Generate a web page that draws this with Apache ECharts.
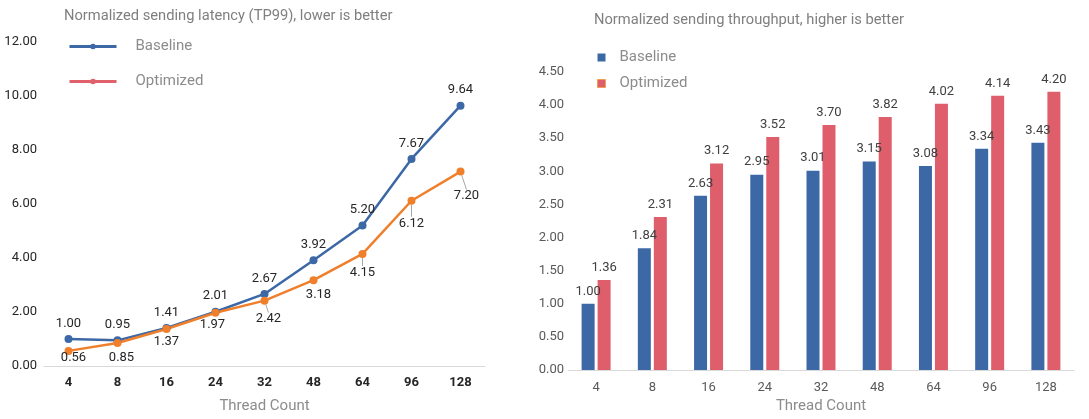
<!DOCTYPE html>
<html><head><meta charset="utf-8">
<script src="https://cdn.jsdelivr.net/npm/echarts@6/dist/echarts.min.js"></script>
<style>html,body{margin:0;padding:0;background:#fff}#c{width:1089px;height:419px}</style>
</head><body><div id="c"></div>
<script>
const categories = ['4','8','16','24','32','48','64','96','128'];
const latencyBaseline = [1.00,0.95,1.41,2.01,2.67,3.92,5.20,7.67,9.64];
const latencyOptimized = [0.56,0.85,1.37,1.97,2.42,3.18,4.15,6.12,7.20];
const throughputBaseline = [1.00,1.84,2.63,2.95,3.01,3.15,3.08,3.34,3.43];
const throughputOptimized = [1.36,2.31,3.12,3.52,3.70,3.82,4.02,4.14,4.20];
const latencyTicks = {min:0,max:12,interval:2};
const throughputTicks = {min:0,max:4.5,interval:0.5};

const FONT = 'Roboto';
const BLUE = '#3D68A6', ORANGE = '#F07F2C', RED = '#DE5F6B', LEG_RED = '#E0606C';
// label shifts for the optimized latency labels (dx, dy) and which get a leader line
const optShift = [[5,-9],[4,-1],[0,-3],[-3,-4],[4,3],[5,-1],[0,3],[0,7],[6,9]];
const optLeader = [false,false,false,false,true,false,true,true,true];

const chart = echarts.init(document.getElementById('c'), null, {renderer:'canvas'});
chart.setOption({
  animation:false,
  textStyle:{fontFamily:FONT},
  title:[
    {text:'Normalized sending latency (TP99), lower is better', left:59, top:4,
     textStyle:{fontFamily:FONT,fontSize:14.7,fontWeight:'normal',color:'#7f7f7f'}},
    {text:'Normalized sending throughput, higher is better', left:589, top:8,
     textStyle:{fontFamily:FONT,fontSize:14.7,fontWeight:'normal',color:'#7f7f7f'}}
  ],
  legend:[
    {orient:'vertical', left:63, top:34, itemWidth:47, itemHeight:7, itemGap:20,
     data:[{name:'Baseline', lineStyle:{width:3}},
           {name:'Optimized', itemStyle:{color:LEG_RED}, lineStyle:{color:LEG_RED, width:3}}],
     textStyle:{fontFamily:FONT,fontSize:15,color:'#8c8c8c',padding:[0,0,0,14]},
     seriesIndex:[0,1]},
    {orient:'vertical', left:592, top:45, itemWidth:8, itemHeight:8, itemGap:11, icon:'rect',
     data:[{name:'Baseline '},{name:'Optimized ', itemStyle:{color:RED, borderColor:'#F0A050', borderWidth:1}}],
     formatter: n => n.trim(),
     textStyle:{fontFamily:FONT,fontSize:15,color:'#8c8c8c',padding:[0,0,0,9]}}
  ],
  grid:[
    {left:44, right:604, top:42, bottom:49},
    {left:568, right:15, top:72, bottom:44}
  ],
  xAxis:[
    {type:'category', gridIndex:0, data:categories, boundaryGap:true,
     axisLine:{lineStyle:{color:'#d9d9d9',width:1}}, axisTick:{show:false},
     axisLabel:{color:'#262626',fontWeight:'bold',fontSize:13,margin:10,fontFamily:FONT},
     name:'Thread Count', nameLocation:'middle', nameGap:33,
     nameTextStyle:{color:'#8c8c8c',fontSize:15,fontFamily:FONT}},
    {type:'category', gridIndex:1, data:categories, boundaryGap:true,
     axisLine:{lineStyle:{color:'#d9d9d9',width:1}}, axisTick:{show:false},
     axisLabel:{color:'#595959',fontSize:13,margin:11,fontFamily:FONT},
     name:'Thread Count', nameLocation:'middle', nameGap:29,
     nameTextStyle:{color:'#8c8c8c',fontSize:15,fontFamily:FONT}}
  ],
  yAxis:[
    {type:'value', gridIndex:0, min:latencyTicks.min, max:latencyTicks.max, interval:latencyTicks.interval,
     splitLine:{show:false}, axisLine:{show:false}, axisTick:{show:false},
     axisLabel:{color:'#262626',fontSize:13,margin:7,formatter:v=>v.toFixed(2),fontFamily:FONT}},
    {type:'value', gridIndex:1, min:throughputTicks.min, max:throughputTicks.max, interval:throughputTicks.interval,
     splitLine:{show:false}, axisLine:{show:false}, axisTick:{show:false},
     axisLabel:{color:'#595959',fontSize:13,margin:4,formatter:v=>v.toFixed(2),fontFamily:FONT}}
  ],
  series:[
    {name:'Baseline', type:'line', xAxisIndex:0, yAxisIndex:0, data:latencyBaseline,
     symbol:'circle', symbolSize:8, color:BLUE, lineStyle:{width:2.5,color:BLUE},
     label:{show:true,position:'top',distance:5,color:'#262626',fontSize:13,formatter:p=>p.value.toFixed(2),fontFamily:FONT}},
    {name:'Optimized', type:'line', xAxisIndex:0, yAxisIndex:0,
     data:latencyOptimized.map((v,i)=>({value:v, labelLine:{show:optLeader[i]}})),
     symbol:'circle', symbolSize:8, color:ORANGE, lineStyle:{width:2.5,color:ORANGE},
     label:{show:true,position:'bottom',distance:5,color:'#262626',fontSize:13,formatter:p=>p.value.toFixed(2),fontFamily:FONT},
     labelLine:{show:false, lineStyle:{color:'#a6a6a6',width:1}},
     labelLayout:p=>({dx:optShift[p.dataIndex][0], dy:optShift[p.dataIndex][1]})},
    {name:'Baseline ', type:'bar', xAxisIndex:1, yAxisIndex:1, data:throughputBaseline,
     barWidth:13, barGap:'23%', color:BLUE,
     label:{show:true,position:'top',distance:6,color:'#404040',fontSize:13,formatter:p=>p.value.toFixed(2),fontFamily:FONT}},
    {name:'Optimized ', type:'bar', xAxisIndex:1, yAxisIndex:1, data:throughputOptimized,
     barWidth:13, barGap:'23%', color:RED,
     label:{show:true,position:'top',distance:6,color:'#404040',fontSize:13,formatter:p=>p.value.toFixed(2),fontFamily:FONT}}
  ]
});
</script></body></html>
